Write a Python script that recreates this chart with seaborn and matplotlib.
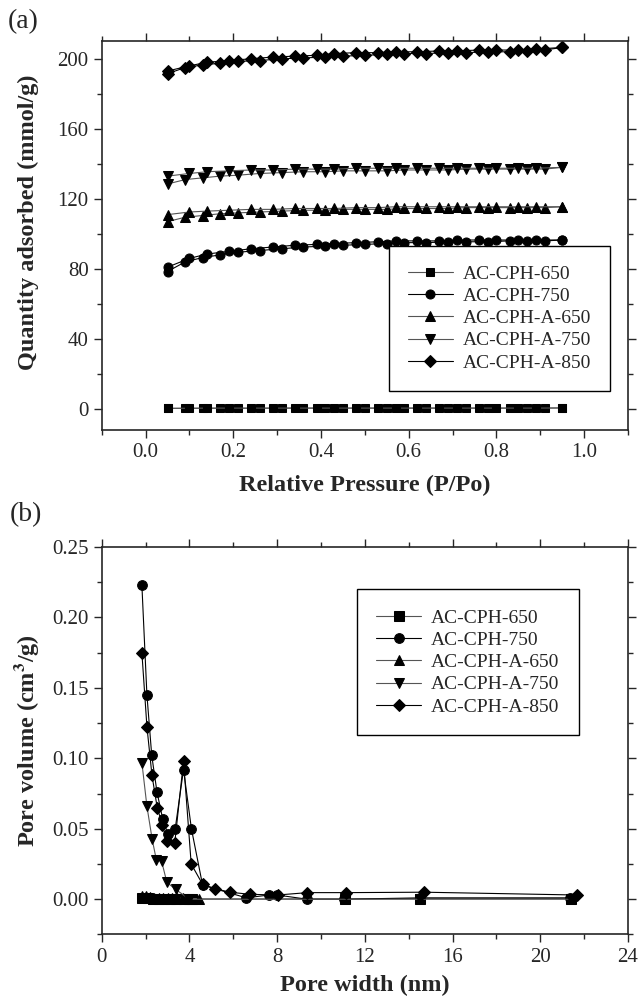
import seaborn as sns
import matplotlib.pyplot as plt
from matplotlib.ticker import MultipleLocator

names = ["AC-CPH-650", "AC-CPH-750", "AC-CPH-A-650", "AC-CPH-A-750", "AC-CPH-A-850"]
markers = ["s", "o", "^", "v", "D"]
line_colors = ["#555555", "black", "#555555", "#555555", "black"]

# (a) N2 isotherms: adsorption branch (p_ads) and desorption branch (p_des)
p_ads = [0.05, 0.09, 0.13, 0.17, 0.21, 0.26, 0.31, 0.36, 0.41, 0.45, 0.50,
         0.55, 0.59, 0.64, 0.69, 0.73, 0.78, 0.83, 0.87, 0.91, 0.95]
p_des = [0.95, 0.89, 0.85, 0.80, 0.76, 0.71, 0.67, 0.62, 0.57, 0.53,
         0.48, 0.43, 0.39, 0.34, 0.29, 0.24, 0.19, 0.14, 0.10, 0.05]

ads_650 = [0.3, 0.4, 0.4, 0.4, 0.4, 0.4, 0.5, 0.5, 0.5, 0.5, 0.5,
           0.5, 0.5, 0.5, 0.5, 0.5, 0.5, 0.5, 0.5, 0.5, 0.6]
des_650 = [0.6, 0.5, 0.5, 0.5, 0.5, 0.5, 0.5, 0.5, 0.5, 0.5,
           0.5, 0.5, 0.5, 0.5, 0.5, 0.5, 0.5, 0.5, 0.4, 0.4]
ads_750 = [78.5, 84.0, 86.5, 88.0, 89.5, 90.5, 91.5, 92.5, 93.0, 93.5, 94.0,
           94.5, 95.0, 95.0, 95.5, 95.5, 95.5, 96.0, 96.0, 96.0, 96.5]
des_750 = [96.5, 96.5, 96.5, 96.5, 96.5, 96.5, 96.0, 96.0, 96.0, 95.5,
           95.0, 94.5, 94.0, 93.5, 92.5, 91.5, 90.0, 88.5, 86.0, 81.0]
ads_a650 = [107.0, 109.5, 110.5, 111.5, 112.0, 112.5, 113.0, 113.5, 113.5, 114.0, 114.0,
            114.0, 114.5, 114.5, 114.5, 115.0, 115.0, 115.0, 115.0, 115.0, 115.5]
des_a650 = [115.5, 115.5, 115.5, 115.5, 115.5, 115.5, 115.5, 115.5, 115.5, 115.0,
            115.0, 114.5, 114.5, 114.5, 114.0, 114.0, 113.5, 113.0, 112.5, 111.0]
ads_a750 = [128.5, 131.0, 132.0, 133.0, 133.5, 134.5, 135.0, 135.5, 135.5, 136.0, 136.0,
            136.0, 136.5, 136.5, 136.5, 137.0, 137.0, 137.0, 137.0, 137.0, 138.0]
des_a750 = [138.0, 137.5, 137.5, 137.5, 137.5, 137.5, 137.5, 137.5, 137.5, 137.5,
            137.5, 137.0, 137.0, 137.0, 136.5, 136.5, 136.0, 135.5, 134.5, 133.0]
ads_a850 = [191.5, 195.0, 196.5, 197.5, 198.5, 199.0, 200.0, 200.5, 201.0, 201.5, 202.0,
            202.5, 203.0, 203.0, 203.5, 203.5, 204.0, 204.0, 204.5, 205.0, 206.5]
des_a850 = [206.5, 205.5, 205.0, 205.0, 205.0, 204.5, 204.5, 204.0, 204.0, 203.5,
            203.5, 203.0, 202.0, 201.5, 201.0, 200.0, 199.0, 198.0, 196.0, 193.0]

# (b) pore size distribution
w_650 = [1.85, 2.1, 2.35, 2.6, 2.85, 3.1, 3.4, 3.75, 4.1, 11.1, 14.5, 21.4]
v_650 = [0.001, 0.001, 0.0005, 0.0005, 0.0005, 0.0003, 0.0003, 0.0003, 0.0003, 0.0003, 0.0005, 0.0005]
w_750 = [1.83, 2.06, 2.28, 2.52, 2.78, 3.02, 3.35, 3.73, 4.09, 4.6, 6.6, 7.62, 8.0, 9.38, 11.07, 14.53, 21.36]
v_750 = [0.223, 0.145, 0.102, 0.076, 0.057, 0.046, 0.050, 0.092, 0.050, 0.010, 0.001,
         0.003, 0.003, 0.0, 0.0, 0.001, 0.001]
w_a650 = [1.82, 2.0, 2.2, 2.4, 2.6, 2.8, 3.0, 3.2, 3.45, 3.7, 4.0, 4.45]
v_a650 = [0.0025, 0.002, 0.0015, 0.0012, 0.001, 0.001, 0.001, 0.0008, 0.0008, 0.0006, 0.0005, 0.0005]
w_a750 = [1.83, 2.06, 2.3, 2.49, 2.73, 2.97, 3.37, 4.0, 14.5, 21.4]
v_a750 = [0.097, 0.066, 0.0425, 0.028, 0.027, 0.012, 0.007, 0.0, 0.0, 0.0]
w_a850 = [1.83, 2.06, 2.29, 2.53, 2.76, 2.97, 3.33, 3.73, 4.08, 4.6, 5.17, 5.84, 6.76,
          8.02, 9.38, 11.15, 14.7, 21.7]
v_a850 = [0.175, 0.1225, 0.088, 0.065, 0.053, 0.041, 0.040, 0.098, 0.025, 0.0106, 0.0075,
          0.005, 0.0035, 0.003, 0.0047, 0.0047, 0.005, 0.003]

iso_ads = [ads_650, ads_750, ads_a650, ads_a750, ads_a850]
iso_des = [des_650, des_750, des_a650, des_a750, des_a850]
psd_w = [w_650, w_750, w_a650, w_a750, w_a850]
psd_v = [v_650, v_750, v_a650, v_a750, v_a850]

sns.set_style("ticks")
plt.rcParams["font.family"] = ["Liberation Serif", "DejaVu Serif"]
plt.rcParams["mathtext.fontset"] = "stix"

fig = plt.figure(figsize=(6.44, 10.07), dpi=100)
ax1 = fig.add_axes([0.158, 0.573, 0.817, 0.386])
ax2 = fig.add_axes([0.158, 0.072, 0.817, 0.385])

mk = dict(markerfacecolor="black", markeredgecolor="black", linewidth=0.8)
msz = {"s": 6, "o": 6.5, "^": 6.5, "v": 6.5, "D": 6}

for i, name in enumerate(names):
    sns.lineplot(x=p_ads, y=iso_ads[i], sort=False, estimator=None, ax=ax1,
                 marker=markers[i], markersize=msz[markers[i]], color=line_colors[i],
                 label=name, **mk)
    sns.lineplot(x=p_des, y=iso_des[i], sort=False, estimator=None, ax=ax1,
                 marker=markers[i], markersize=msz[markers[i]], color=line_colors[i],
                 legend=False, **mk)
    sns.lineplot(x=psd_w[i], y=psd_v[i], sort=False, estimator=None, ax=ax2,
                 marker=markers[i], markersize=msz[markers[i]] + 0.5, color=line_colors[i],
                 label=name, **mk)

ax1.set_xlim(-0.1, 1.1)
ax1.set_ylim(-12, 210)
ax1.xaxis.set_major_locator(MultipleLocator(0.2))
ax1.xaxis.set_minor_locator(MultipleLocator(0.1))
ax1.yaxis.set_major_locator(MultipleLocator(40))
ax1.yaxis.set_minor_locator(MultipleLocator(20))
ax1.set_xlabel("Relative Pressure (P/Po)", fontsize=17.5, fontweight="bold", labelpad=9)
ax1.set_ylabel("Quantity adsorbed (mmol/g)", fontsize=17.5, fontweight="bold", labelpad=8)
ax1.yaxis.set_label_coords(-0.12, 0.535)

ax2.set_xlim(0, 24)
ax2.set_ylim(-0.025, 0.25)
ax2.xaxis.set_major_locator(MultipleLocator(4))
ax2.xaxis.set_minor_locator(MultipleLocator(2))
ax2.yaxis.set_major_locator(MultipleLocator(0.05))
ax2.yaxis.set_minor_locator(MultipleLocator(0.025))
ax2.set_xlabel("Pore width (nm)", fontsize=17.5, fontweight="bold", labelpad=6)
ax2.set_ylabel("Pore volume (cm$^\\mathbf{3}$/g)", fontsize=17.5, fontweight="bold", labelpad=8)
ax1.xaxis.set_major_formatter(plt.FormatStrFormatter("%.1f"))
ax2.yaxis.set_major_formatter(plt.FormatStrFormatter("%.2f"))

for ax in (ax1, ax2):
    for s in ax.spines.values():
        s.set_visible(True)
        s.set_linewidth(1.2)
    ax.tick_params(which="both", direction="out", top=True, right=True,
                   labeltop=False, labelright=False, width=1.0, labelsize=15)
    ax.tick_params(which="major", length=6)
    ax.tick_params(which="minor", length=3.5)

leg_kw = dict(frameon=True, fancybox=False, framealpha=1, edgecolor="black",
              fontsize=14, handlelength=2.3, handletextpad=0.5, labelspacing=0.24,
              borderpad=1.0)
l1 = ax1.legend(loc="lower right", bbox_to_anchor=(0.985, 0.075), **leg_kw)
l2 = ax2.legend(loc="upper right", bbox_to_anchor=(0.925, 0.915), **leg_kw)
for l in (l1, l2):
    l.get_frame().set_linewidth(1.0)

fig.text(0.012, 0.979, "(a)", fontsize=20, va="center", ha="left")
fig.text(0.015, 0.489, "(b)", fontsize=20, va="center", ha="left")

fig.savefig("out.png", dpi=100)
